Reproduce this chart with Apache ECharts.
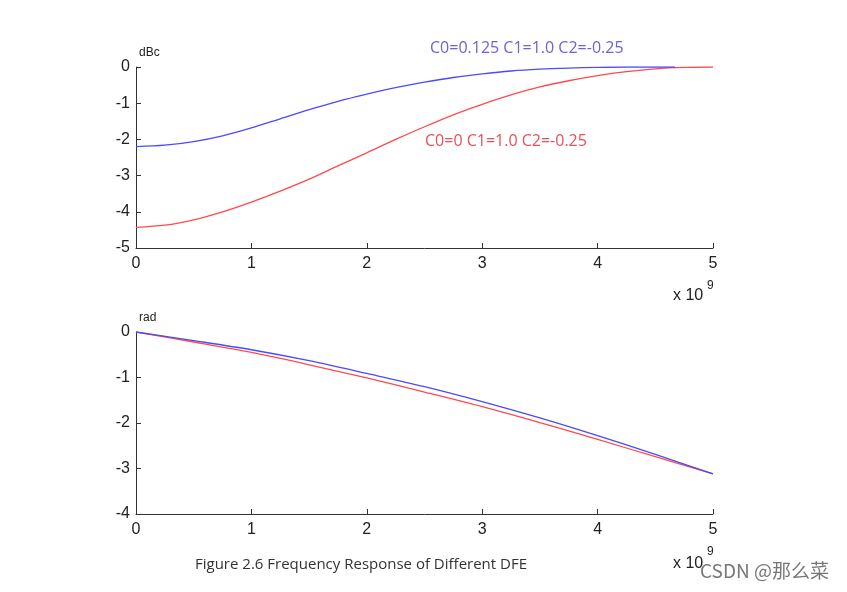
<!DOCTYPE html>
<html><head><meta charset="utf-8">
<script src="https://cdn.jsdelivr.net/npm/echarts@6/dist/echarts.min.js"></script>
<style>html,body{margin:0;padding:0;background:#fff}#c{width:847px;height:592px}</style>
</head><body><div id="c"></div>
<script>
// x in units of 1e9 Hz
const magXBlue = [0,0.25,0.5,0.75,1,1.25,1.5,1.75,2,2.25,2.5,2.75,3,3.25,3.5,3.75,4,4.25,4.5,4.67];
const magBlue  = [-2.2,-2.16,-2.06,-1.9,-1.68,-1.43,-1.18,-0.95,-0.75,-0.57,-0.42,-0.29,-0.19,-0.11,-0.06,-0.03,-0.01,0,0,0];
const magXRed  = [0,0.25,0.5,0.75,1,1.25,1.5,1.75,2,2.25,2.5,2.75,3,3.25,3.5,3.75,4,4.25,4.5,4.75,5];
const magRed   = [-4.43,-4.37,-4.22,-4.0,-3.73,-3.43,-3.1,-2.73,-2.37,-2.0,-1.65,-1.32,-1.03,-0.77,-0.55,-0.38,-0.24,-0.13,-0.05,-0.01,0];
const phX = [0,0.5,1,1.5,2,2.5,3,3.5,4,4.5,5];
const phBlue = [0,-0.19,-0.39,-0.63,-0.91,-1.2,-1.53,-1.89,-2.28,-2.69,-3.12];
const phRed  = [0,-0.22,-0.45,-0.72,-1.01,-1.32,-1.64,-1.99,-2.36,-2.74,-3.12];
const topLabelBlue = 'C0=0.125 C1=1.0 C2=-0.25';
const topLabelRed = 'C0=0 C1=1.0 C2=-0.25';
const caption = 'Figure 2.6 Frequency Response of Different DFE';

const pair = (xs, ys) => xs.map((x,i)=>[x, ys[i]]);
const axisLine = {show:true, onZero:false, lineStyle:{color:'#333', width:1}};
const lab = {color:'#222', fontSize:16, fontFamily:'Liberation Sans, Arial, sans-serif'};
function xAx(gi){return {gridIndex:gi,type:'value',min:0,max:5,interval:1,axisLine,
  axisTick:{show:true,inside:true,length:5,lineStyle:{color:'#333'}},
  axisLabel:Object.assign({margin:8},lab),splitLine:{show:false}};}
function yAx(gi,mn){return {gridIndex:gi,type:'value',min:mn,max:0,interval:1,axisLine,
  axisTick:{show:true,inside:true,length:5,lineStyle:{color:'#333'}},
  axisLabel:Object.assign({margin:6},lab),splitLine:{show:false}};}
const ln = (c)=>({type:'line',showSymbol:false,smooth:0.3,lineStyle:{color:c,width:1.3},itemStyle:{color:c}});
const chart = echarts.init(document.getElementById('c'));
chart.setOption({
  animation:false,
  grid:[{left:136,right:134,top:67,height:181},{left:136,right:134,top:332,height:182}],
  xAxis:[xAx(0),xAx(1)],
  yAxis:[yAx(0,-5),yAx(1,-4)],
  series:[
    Object.assign(ln('#ff4a4a'),{xAxisIndex:0,yAxisIndex:0,data:pair(magXRed,magRed),z:2}),
    Object.assign(ln('#4a4aff'),{xAxisIndex:0,yAxisIndex:0,data:pair(magXBlue,magBlue),z:3}),
    Object.assign(ln('#ff4a4a'),{xAxisIndex:1,yAxisIndex:1,data:pair(phX,phRed),z:2}),
    Object.assign(ln('#4a4aff'),{xAxisIndex:1,yAxisIndex:1,data:pair(phX,phBlue),z:3})
  ],
  graphic:[
    {type:'text',left:139,top:47,style:{text:'dBc',fontSize:12,fill:'#222',fontFamily:'Liberation Sans, Arial'}},
    {type:'text',left:139,top:312,style:{text:'rad',fontSize:12,fill:'#222',fontFamily:'Liberation Sans, Arial'}},
    {type:'text',left:673,top:288,style:{text:'x 10',fontSize:16,fill:'#222',fontFamily:'Liberation Sans, Arial'}},
    {type:'text',left:707,top:280,style:{text:'9',fontSize:12,fill:'#222',fontFamily:'Liberation Sans, Arial'}},
    {type:'text',left:673,top:556,style:{text:'x 10',fontSize:16,fill:'#222',fontFamily:'Liberation Sans, Arial'}},
    {type:'text',left:707,top:546,style:{text:'9',fontSize:12,fill:'#222',fontFamily:'Liberation Sans, Arial'}},
    {type:'text',left:430,top:40,style:{text:topLabelBlue,fontSize:16,fill:'#6c63d6',fontFamily:'Open Sans, Noto Sans, sans-serif'}},
    {type:'text',left:425,top:133,style:{text:topLabelRed,fontSize:16,fill:'#e8505a',fontFamily:'Open Sans, Noto Sans, sans-serif'}},
    {type:'text',left:195,top:557,style:{text:caption,fontSize:15,fill:'#333',fontFamily:'Open Sans, Noto Sans, sans-serif'}},
    {type:'text',left:700,top:561,style:{text:'CSDN @那么菜',fontSize:19,fill:'#777',fontFamily:'Noto Sans CJK SC, sans-serif'}}
  ]
});
</script></body></html>
